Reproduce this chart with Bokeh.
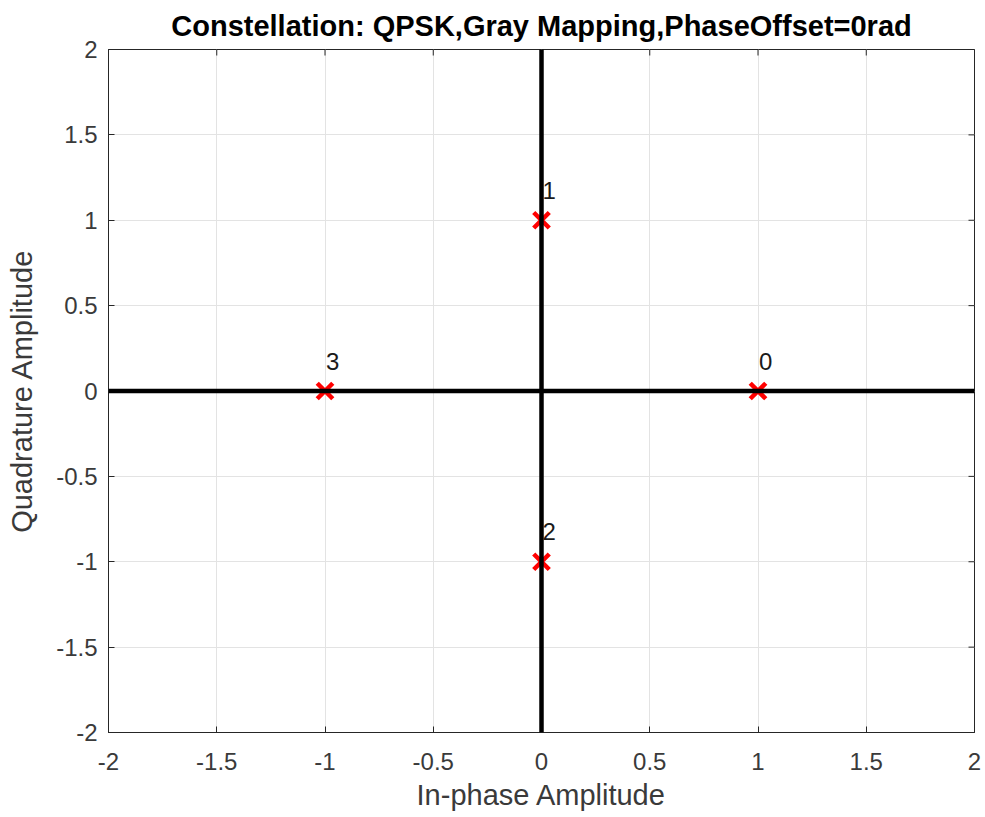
import math
from bokeh.plotting import figure
from bokeh.models import Range1d, FixedTicker, Span, ColumnDataSource
from bokeh.core.properties import value
from bokeh.embed import file_html
from bokeh.resources import INLINE

# data
in_phase = [1, 0, 0, -1]
quadrature = [0, 1, -1, 0]
symbol_labels = ["0", "1", "2", "3"]
tick_values = [-2, -1.5, -1, -0.5, 0, 0.5, 1, 1.5, 2]
tick_labels = ["-2", "-1.5", "-1", "-0.5", "0", "0.5", "1", "1.5", "2"]
axis_max = 2
title_text = "Constellation: QPSK,Gray Mapping,PhaseOffset=0rad"
x_label = "In-phase Amplitude"
y_label = "Quadrature Amplitude"

FONT = "Liberation Sans"
AX_COL = "#262626"
TXT_COL = "#3a3a3a"

p = figure(width=985, height=817, output_backend="svg", toolbar_location=None,
           x_range=Range1d(-axis_max, axis_max), y_range=Range1d(-axis_max, axis_max),
           min_border_left=108, min_border_right=11, min_border_top=48, min_border_bottom=85,
           x_axis_label=x_label, y_axis_label=y_label)

p.title.text = title_text
p.title.align = "center"
p.title.standoff = 15
p.title.text_font = FONT
p.title.text_font_size = "29px"
p.title.text_font_style = "bold"
p.title.text_color = "#000000"

overrides = {v: s for v, s in zip(tick_values, tick_labels)}
for ax in [p.xaxis[0], p.yaxis[0]]:
    ax.ticker = FixedTicker(ticks=tick_values)
    ax.minor_tick_line_color = None
    ax.major_tick_in = 6
    ax.major_tick_out = 0
    ax.major_tick_line_color = AX_COL
    ax.axis_line_color = AX_COL
    ax.major_label_overrides = overrides
    ax.major_label_text_font = FONT
    ax.major_label_text_font_size = "24px"
    ax.major_label_text_color = TXT_COL
    ax.axis_label_text_font = FONT
    ax.axis_label_text_font_size = "29px"
    ax.axis_label_text_font_style = "normal"
    ax.axis_label_text_color = TXT_COL
p.xaxis[0].major_label_standoff = 20
p.xaxis[0].axis_label_standoff = 6
p.yaxis[0].major_label_standoff = 11
p.yaxis[0].axis_label_standoff = 15

for g in [p.xgrid[0], p.ygrid[0]]:
    g.ticker = FixedTicker(ticks=tick_values)
    g.grid_line_color = "#e3e3e3"
    g.grid_line_width = 1

p.outline_line_color = AX_COL
p.background_fill_color = "white"
p.border_fill_color = "white"

# inward ticks on top and right box edges (half of each dash is clipped by the frame)
p.scatter(x=tick_values, y=[axis_max] * len(tick_values), marker="dash", size=12,
          angle=math.pi / 2, line_color=AX_COL, line_width=1)
p.scatter(x=[axis_max] * len(tick_values), y=tick_values, marker="dash", size=12,
          line_color=AX_COL, line_width=1)

src = ColumnDataSource(dict(x=in_phase, y=quadrature, lab=symbol_labels))
p.scatter("x", "y", source=src, marker="x", size=22, line_color="#ff0000", line_width=4.5)

p.add_layout(Span(location=0, dimension="height", line_color="black", line_width=4.5))
p.add_layout(Span(location=0, dimension="width", line_color="black", line_width=4.5))

p.text("x", "y", text="lab", source=src, text_font=value(FONT), text_font_size="24px",
       text_color="#1a1a1a", text_align="left", text_baseline="alphabetic",
       x_offset=1, y_offset=-30)

open("out.html", "w").write(file_html(p, INLINE))
